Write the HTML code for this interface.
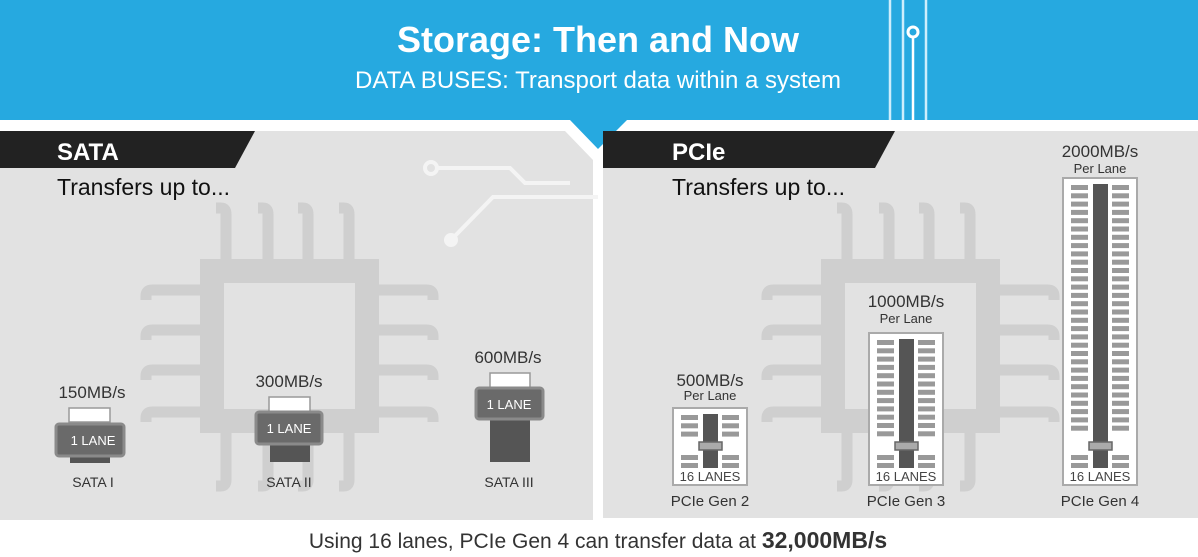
<!DOCTYPE html>
<html><head><meta charset="utf-8"><style>
html,body{margin:0;padding:0;background:#fff}
svg{display:block}
text{font-family:"Liberation Sans",sans-serif}
</style></head><body>
<svg id="s" width="1198" height="557" viewBox="0 0 1198 557" xmlns="http://www.w3.org/2000/svg">
<rect x="0" y="0" width="1198" height="557" fill="#fff"/>
<rect x="0" y="0" width="1198" height="120" fill="#26a9e0"/>
<!-- header circuit lines -->
<g stroke="#cdeefc" stroke-width="2.5" fill="none">
<line x1="890" y1="0" x2="890" y2="120"/><line x1="903" y1="0" x2="903" y2="120"/>
<line x1="926" y1="0" x2="926" y2="120"/><line x1="913" y1="37" x2="913" y2="120" stroke="#fff"/>
</g>
<circle cx="913" cy="32" r="5" fill="none" stroke="#fff" stroke-width="3"/>
<text x="598" y="52" text-anchor="middle" fill="#fff" font-size="36" font-weight="bold">Storage: Then and Now</text>
<text x="598" y="88" text-anchor="middle" fill="#fff" font-size="24">DATA BUSES: Transport data within a system</text>
<!-- panels -->
<polygon points="0,131 565,131 593,160 593,520 0,520" fill="#e2e2e2"/>
<polygon points="603,131 1198,131 1198,518 603,518" fill="#e2e2e2"/>
<polygon points="570,120 627,120 598,149" fill="#26a9e0"/>
<!-- left circuit -->
<g stroke="#f4f4f4" stroke-width="4" fill="none">
<polyline points="438,168 510,168 525,183 570,183"/>
<polyline points="451,240 493,197 598,197"/>
</g>
<circle cx="431" cy="168" r="6" fill="#e2e2e2" stroke="#f4f4f4" stroke-width="4"/>
<circle cx="451" cy="240" r="7" fill="#f4f4f4"/>
<g id="chips"></g>
<!-- tabs -->
<polygon points="0,131 255,131 235,168 0,168" fill="#222"/>
<text x="57" y="160" fill="#fff" font-size="24" font-weight="bold">SATA</text>
<text x="57" y="195" fill="#111" font-size="23">Transfers up to...</text>
<polygon points="603,131 895,131 875,168 603,168" fill="#222"/>
<text x="672" y="160" fill="#fff" font-size="24" font-weight="bold">PCIe</text>
<text x="672" y="195" fill="#111" font-size="23">Transfers up to...</text>
<!-- SATA connectors -->
<g font-size="17" fill="#333" text-anchor="middle">
<text x="92" y="398">150MB/s</text><text x="289" y="387">300MB/s</text><text x="508" y="363">600MB/s</text>
</g>
<g stroke="#999" stroke-width="1.5">
<rect x="69" y="408" width="41" height="14" fill="#fff"/>
<rect x="70" y="456" width="40" height="7" fill="#555" stroke="none"/>
<rect x="56" y="424" width="68" height="32" rx="3" fill="#6a6a6a" stroke="#8a8a8a" stroke-width="3"/>
<rect x="269" y="397" width="41" height="15" fill="#fff"/>
<rect x="270" y="444" width="40" height="18" fill="#555" stroke="none"/>
<rect x="256" y="412" width="66" height="32" rx="3" fill="#6a6a6a" stroke="#8a8a8a" stroke-width="3"/>
<rect x="490" y="373" width="40" height="16" fill="#fff"/>
<rect x="490" y="419" width="40" height="43" fill="#555" stroke="none"/>
<rect x="476" y="388" width="67" height="31" rx="3" fill="#6a6a6a" stroke="#8a8a8a" stroke-width="3"/>
</g>
<g font-size="13" fill="#fff" text-anchor="middle">
<text x="93" y="445">1 LANE</text><text x="289" y="433">1 LANE</text><text x="509" y="409">1 LANE</text>
</g>
<g font-size="14" fill="#333" text-anchor="middle">
<text x="93" y="487">SATA I</text><text x="289" y="487">SATA II</text><text x="509" y="487">SATA III</text>
</g>
<!-- PCIe -->
<g id="cards"></g>
<g fill="#333" text-anchor="middle">
<text x="710" y="386" font-size="17">500MB/s</text><text x="710" y="400" font-size="13">Per Lane</text>
<text x="906" y="307" font-size="17">1000MB/s</text><text x="906" y="323" font-size="13">Per Lane</text>
<text x="1100" y="157" font-size="17">2000MB/s</text><text x="1100" y="173" font-size="13">Per Lane</text>
<g font-size="15"><text x="710" y="506">PCIe Gen 2</text><text x="906" y="506">PCIe Gen 3</text><text x="1100" y="506">PCIe Gen 4</text></g>
</g>
<text x="598" y="548" text-anchor="middle" fill="#333" font-size="21">Using 16 lanes, PCIe Gen 4 can transfer data at <tspan font-weight="bold" font-size="23">32,000MB/s</tspan></text>
<script>
var NS="http://www.w3.org/2000/svg";
function el(p,t,a){var e=document.createElementNS(NS,t);for(var k in a)e.setAttribute(k,a[k]);p.appendChild(e);return e;}
var ch=document.getElementById("chips");
function chip(ox){
 var g=el(ch,"g",{stroke:"#cfcfcf","stroke-width":11,fill:"none"});
 el(g,"path",{d:"M"+(ox+201+11)+" "+(259+12)+"H"+(ox+378-11)+"V"+(433-12)+"H"+(ox+201+11)+"Z","stroke-width":24});
 [226,268,308,349].forEach(function(x){x+=ox;
  el(g,"path",{d:"M"+(x-10)+" 208 H"+(x-5)+" Q"+x+" 208 "+x+" 214 V260"});
  el(g,"path",{d:"M"+(x-10)+" 486 H"+(x-5)+" Q"+x+" 486 "+x+" 480 V432"});});
 [290,330,370,412].forEach(function(y){
  el(g,"path",{d:"M"+(ox+202)+" "+y+" H"+(ox+152)+" Q"+(ox+146)+" "+y+" "+(ox+146)+" "+(y+6)+" V"+(y+10)});
  el(g,"path",{d:"M"+(ox+377)+" "+y+" H"+(ox+427)+" Q"+(ox+433)+" "+y+" "+(ox+433)+" "+(y+6)+" V"+(y+10)});});
}
chip(0);chip(621);
var cd=document.getElementById("cards");
function card(cx,top){
 var x0=cx-37,bot=485;
 el(cd,"rect",{x:x0,y:top,width:74,height:bot-top,fill:"#fff",stroke:"#aaa","stroke-width":2});
 for(var y=top+7;y<=433;y+=8.3){el(cd,"rect",{x:cx-29,y:y,width:17,height:5,fill:"#999"});el(cd,"rect",{x:cx+12,y:y,width:17,height:5,fill:"#999"});}
 [455,463].forEach(function(y){el(cd,"rect",{x:cx-29,y:y,width:17,height:5,fill:"#999"});el(cd,"rect",{x:cx+12,y:y,width:17,height:5,fill:"#999"});});
 el(cd,"rect",{x:cx-7,y:top+6,width:15,height:468-top-6,fill:"#555"});
 el(cd,"rect",{x:cx-11,y:442,width:23,height:8,fill:"#aaa",stroke:"#666","stroke-width":1.5});
 var t=el(cd,"text",{x:cx,y:481,"text-anchor":"middle","font-size":13,fill:"#444"});t.textContent="16 LANES";
}
card(710,408);card(906,333);card(1100,178);
</script>
</svg>
</body></html>
